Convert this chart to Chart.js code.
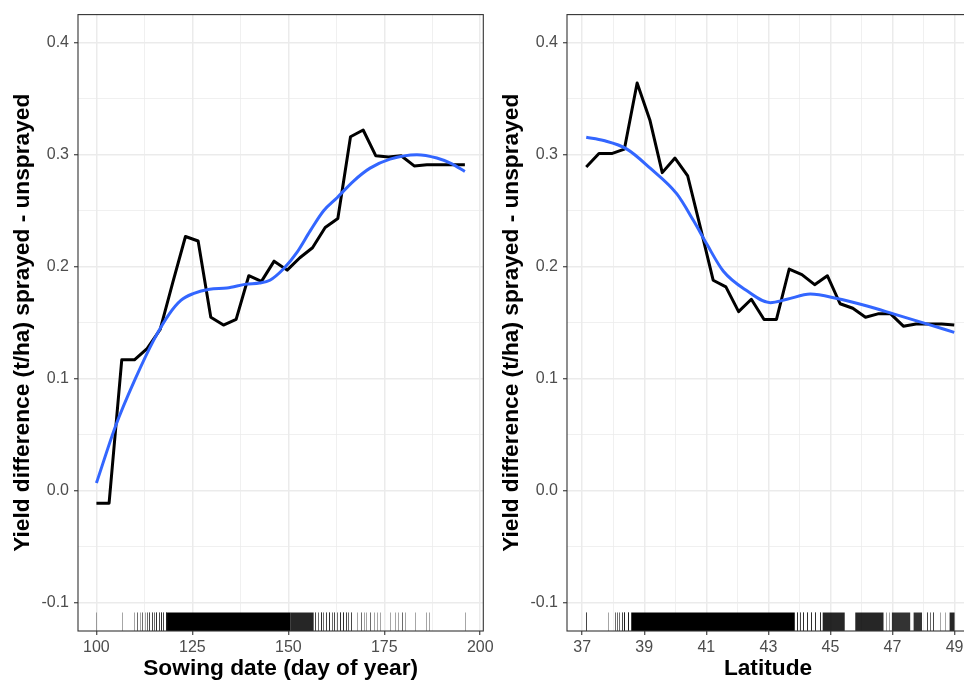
<!DOCTYPE html>
<html>
<head>
<meta charset="utf-8">
<script src="https://cdn.jsdelivr.net/npm/chart.js@4.4.1/dist/chart.umd.min.js"></script>
<style>
  html, body { margin: 0; padding: 0; background: #ffffff; }
  #wrap { position: relative; width: 964px; height: 681px; overflow: hidden; }
  #sowingChart { position: absolute; left: 0; top: 0; }
  #latitudeChart { position: absolute; left: 489px; top: 0; }
</style>
</head>
<body>
<div id="wrap">
  <canvas id="sowingChart" width="500" height="681" style="width:500px;height:681px"></canvas>
  <canvas id="latitudeChart" width="480" height="681" style="width:480px;height:681px"></canvas>
</div>
<script>
// shared y axis
const yGrid = [-0.1, -0.05, 0, 0.05, 0.1, 0.15, 0.2, 0.25, 0.3, 0.35, 0.4];
const yLabels = [-0.1, 0, 0.1, 0.2, 0.3, 0.4];

// left panel: sowing date
const sowingGrid = [100, 112.5, 125, 137.5, 150, 162.5, 175, 187.5, 200];
const sowingLabels = [100, 125, 150, 175, 200];
const sowingDays = [100, 103.3, 106.6, 109.9, 113.2, 116.6, 119.9, 123.2, 126.5, 129.8,
  133.1, 136.4, 139.7, 143.0, 146.3, 149.7, 153.0, 156.3, 159.6, 162.9,
  166.2, 169.5, 172.8, 176.1, 179.4, 182.8, 186.1, 189.4, 192.7, 196.0];
const sowingDiff = [-0.011, -0.011, 0.117, 0.117, 0.127, 0.144, 0.186, 0.227, 0.223, 0.155,
  0.148, 0.153, 0.192, 0.187, 0.205, 0.197, 0.208, 0.217, 0.235, 0.243,
  0.316, 0.322, 0.299, 0.298, 0.299, 0.290, 0.291, 0.291, 0.291, 0.291];
const sowingSmoothDays = [100, 105, 110, 115, 119, 122, 125.2, 129.5, 134, 139, 142.5, 145.2,
  148.7, 152.2, 155.7, 159.2, 162.7, 167, 171.3, 176.5, 183.5, 188.7, 192.5, 196];
const sowingSmooth = [0.007, 0.058, 0.099, 0.135, 0.158, 0.170, 0.176, 0.180, 0.181, 0.1845, 0.1855, 0.188,
  0.198, 0.2126, 0.232, 0.250, 0.2616, 0.2765, 0.288, 0.296, 0.300, 0.297, 0.292, 0.285];
const sowingRugTicks = [100, 106.6, 109.9, 110.6, 111.3, 111.9, 112.6, 113.2, 113.8, 114.4, 115, 115.6,
  116.2, 116.8, 117.4, 118, 157, 157.7, 158.4, 159.1, 159.9, 160.6, 161.3, 162, 162.8, 163.5, 164.2,
  164.9, 165.5, 166.2, 167.8, 168.9, 169.6, 170.3, 171.4, 172.2, 173, 173.8, 176.4, 177.9, 178.7,
  179.5, 180.4, 183, 185.8, 186.7, 196];
const sowingRugCounts = [1, 1, 1, 2, 1, 2, 1, 2, 3, 3, 2, 4,
  3, 4, 3, 5, 3, 2, 4, 2, 3, 4, 2, 3, 2, 4, 4,
  3, 2, 3, 1, 2, 1, 1, 2, 1, 1, 1, 1, 1, 1,
  2, 1, 1, 1, 1, 1];
const sowingBandStart = [118.4, 150.6];
const sowingBandEnd = [150.6, 156.6];
const sowingBandShade = [1, 0.85];

// right panel: latitude
const latGrid = [37, 38, 39, 40, 41, 42, 43, 44, 45, 46, 47, 48, 49];
const latLabels = [37, 39, 41, 43, 45, 47, 49];
const latValues = [37.13, 37.54, 37.95, 38.36, 38.77, 39.18, 39.58, 39.99, 40.40, 40.81,
  41.22, 41.63, 42.04, 42.45, 42.86, 43.26, 43.67, 44.08, 44.49, 44.90,
  45.31, 45.72, 46.13, 46.53, 46.94, 47.35, 47.76, 48.17, 48.58, 48.99];
const latDiff = [0.289, 0.301, 0.301, 0.305, 0.364, 0.331, 0.284, 0.297, 0.281, 0.235,
  0.188, 0.182, 0.160, 0.171, 0.153, 0.153, 0.198, 0.193, 0.184, 0.192,
  0.167, 0.163, 0.155, 0.158, 0.158, 0.147, 0.149, 0.149, 0.149, 0.148];
const latSmoothValues = [37.13, 37.69, 38.44, 39.19, 40.05, 40.59, 41.02, 41.55, 42.31,
  43.06, 43.60, 44.35, 45.21, 46.18, 47.03, 48.10, 48.99];
const latSmooth = [0.3155, 0.3126, 0.305, 0.288, 0.265, 0.241, 0.220, 0.196, 0.1786,
  0.168, 0.171, 0.1756, 0.1717, 0.165, 0.158, 0.149, 0.1415];
const latRugTicks = [37.11, 37.82, 38.05, 38.12, 38.2, 38.27, 38.35, 38.46, 43.93, 44.01, 44.10,
  44.23, 44.36, 44.50, 44.66, 46.8, 46.9, 48.11, 48.2, 48.32, 48.54, 48.7];
const latRugCounts = [3, 1, 2, 2, 2, 3, 5, 5, 4, 3, 4,
  4, 4, 4, 4, 1, 1, 3, 2, 3, 1, 1];
const latBandStart = [38.58, 44.75, 45.80, 46.98, 47.68, 48.84];
const latBandEnd = [43.85, 45.46, 46.71, 47.57, 47.95, 49.0];
const latBandShade = [1, 0.85, 0.85, 0.8, 0.8, 0.85];

const FONT = 'Liberation Sans, Arial, Helvetica, sans-serif';

function panelPlugin(rugTicks, rugCounts, bandStart, bandEnd, bandShade) {
  return {
    id: 'panel',
    beforeDatasetsDraw(chart) {
      const { ctx, chartArea } = chart;
      const xs = chart.scales.x;
      const len = chartArea.height * 0.03;
      ctx.save();
      ctx.beginPath();
      ctx.rect(chartArea.left, chartArea.top, chartArea.width, chartArea.height);
      ctx.clip();
      for (let i = 0; i < bandStart.length; i++) {
        const a = xs.getPixelForValue(bandStart[i]);
        const b = xs.getPixelForValue(bandEnd[i]);
        ctx.fillStyle = 'rgba(0,0,0,' + bandShade[i] + ')';
        ctx.fillRect(a, chartArea.bottom - len, b - a, len);
      }
      ctx.strokeStyle = 'rgba(0,0,0,0.35)';
      ctx.lineWidth = 1;
      for (let i = 0; i < rugTicks.length; i++) {
        const px = Math.round(xs.getPixelForValue(rugTicks[i])) + 0.5;
        for (let k = 0; k < rugCounts[i]; k++) {
          ctx.beginPath();
          ctx.moveTo(px, chartArea.bottom - len);
          ctx.lineTo(px, chartArea.bottom);
          ctx.stroke();
        }
      }
      ctx.restore();
    },
    afterDraw(chart) {
      const { ctx, chartArea } = chart;
      ctx.save();
      ctx.strokeStyle = '#333333';
      ctx.lineWidth = 1.1;
      ctx.strokeRect(chartArea.left, chartArea.top, chartArea.width, chartArea.height);
      ctx.restore();
    }
  };
}

function axisGrid(majors) {
  return {
    color: '#ebebeb',
    lineWidth: c => (c.tick && majors.includes(c.tick.value)) ? 1.5 : 0.75,
    tickLength: 4,
    tickWidth: 1.1,
    tickColor: c => (c.tick && majors.includes(c.tick.value)) ? '#333333' : 'rgba(0,0,0,0)'
  };
}

function makeChart(id, opts) {
  const ctx = document.getElementById(id).getContext('2d');
  return new Chart(ctx, {
    type: 'line',
    data: {
      datasets: [
        {
          label: 'smooth',
          data: opts.smoothX.map((x, i) => ({ x: x, y: opts.smoothY[i] })),
          borderColor: '#3366FF',
          borderWidth: 3,
          pointRadius: 0,
          cubicInterpolationMode: 'monotone',
          borderJoinStyle: 'round'
        },
        {
          label: 'mean',
          data: opts.lineX.map((x, i) => ({ x: x, y: opts.lineY[i] })),
          borderColor: '#000000',
          borderWidth: 3,
          pointRadius: 0,
          tension: 0,
          borderJoinStyle: 'round'
        }
      ]
    },
    options: {
      responsive: false,
      animation: false,
      layout: { padding: { top: 13, right: opts.padRight, bottom: 0, left: 0 } },
      plugins: { legend: { display: false }, tooltip: { enabled: false } },
      scales: {
        x: {
          type: 'linear',
          min: opts.xMin,
          max: opts.xMax,
          afterBuildTicks: s => { s.ticks = opts.xGrid.map(v => ({ value: v })); },
          afterFit: s => { s.height = 50; },
          border: { display: false },
          grid: axisGrid(opts.xLabels),
          ticks: {
            autoSkip: false, maxRotation: 0, padding: 3,
            color: '#4d4d4d', font: { family: FONT, size: 16 },
            callback: v => opts.xLabels.includes(v) ? String(v) : ''
          },
          title: {
            display: true, text: opts.xTitle, color: '#000000',
            font: { family: FONT, size: 22.7, weight: 'bold', lineHeight: 1 },
            padding: { top: 0, bottom: 1 }
          }
        },
        y: {
          type: 'linear',
          min: -0.125,
          max: 0.425,
          afterBuildTicks: s => { s.ticks = yGrid.map(v => ({ value: v })); },
          afterFit: s => { s.width = 78; },
          border: { display: false },
          grid: axisGrid(yLabels),
          ticks: {
            autoSkip: false, padding: 5,
            color: '#4d4d4d', font: { family: FONT, size: 16 },
            callback: v => yLabels.includes(v) ? v.toFixed(1) : ''
          },
          title: {
            display: true, text: 'Yield difference (t/ha) sprayed - unsprayed', color: '#000000',
            font: { family: FONT, size: 22.7, weight: 'bold', lineHeight: 1 },
            padding: { top: 11.5, bottom: 0 }
          }
        }
      }
    },
    plugins: [panelPlugin(opts.rugTicks, opts.rugCounts, opts.bandStart, opts.bandEnd, opts.bandShade)]
  });
}

makeChart('sowingChart', {
  lineX: sowingDays, lineY: sowingDiff,
  smoothX: sowingSmoothDays, smoothY: sowingSmooth,
  xGrid: sowingGrid, xLabels: sowingLabels,
  xMin: 95.2, xMax: 200.8, padRight: 16.7,
  xTitle: 'Sowing date (day of year)',
  rugTicks: sowingRugTicks, rugCounts: sowingRugCounts,
  bandStart: sowingBandStart, bandEnd: sowingBandEnd, bandShade: sowingBandShade
});

makeChart('latitudeChart', {
  lineX: latValues, lineY: latDiff,
  smoothX: latSmoothValues, smoothY: latSmooth,
  xGrid: latGrid, xLabels: latLabels,
  xMin: 36.51, xMax: 49.465, padRight: 0,
  xTitle: 'Latitude',
  rugTicks: latRugTicks, rugCounts: latRugCounts,
  bandStart: latBandStart, bandEnd: latBandEnd, bandShade: latBandShade
});
</script>
</body>
</html>
